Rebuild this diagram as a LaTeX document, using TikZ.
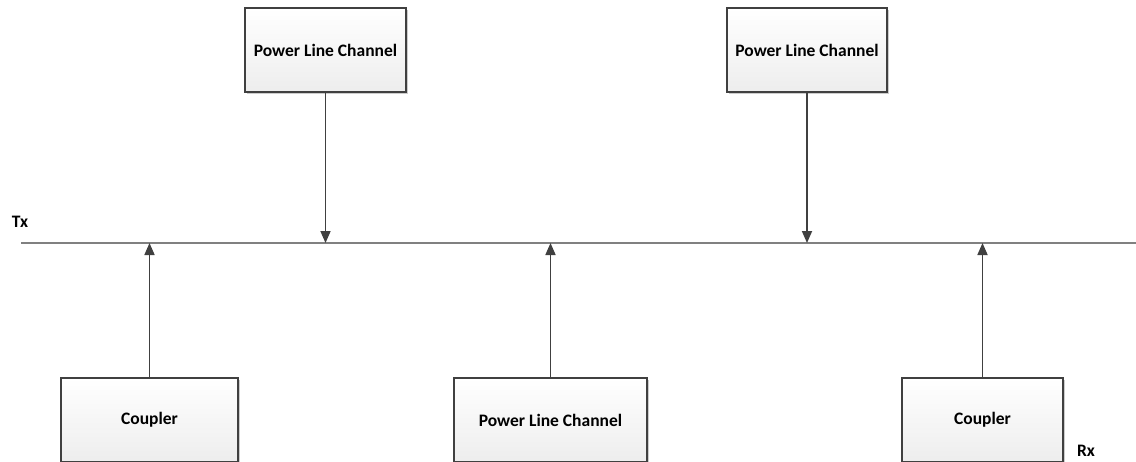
\documentclass[tikz,border=0pt]{standalone}
\usepackage{fontspec}
\setmainfont{Carlito}
\usetikzlibrary{shadows,arrows.meta}
\tikzset{
  blk/.style={draw=black!75, line width=1.3pt, top color=white, bottom color=black!7,
              drop shadow={shadow xshift=1.5pt, shadow yshift=-1.5pt, fill=black!20, opacity=1},
              minimum height=84pt, inner sep=0pt, font=\fontsize{17.5}{20}\selectfont\bfseries},
  feed/.style={draw=black!75, line width=1.7pt, -{Triangle[length=12pt,width=10pt]}},
  lbl/.style={font=\fontsize{17.5}{20}\selectfont\bfseries, inner sep=0pt}
}
\begin{document}
\begin{tikzpicture}[x=1pt,y=-1pt] % Kanal und Koppler am Bus
\useasboundingbox[fill=white] (0,0) rectangle (1136,461);
    \coordinate (busL) at (21,243);
    \coordinate (busR) at (1136,243);
    \draw[black!50, line width=1.2pt] (busL) -- (busR);
    \node[lbl] (tx) at (20,222) {Tx};
    \node[lbl] (rx) at (1086,451) {Rx};
    % oben
    \node[blk, minimum width=161pt] (plcA) at (325.5,50) {Power Line Channel};
    \node[blk, minimum width=160pt] (plcB) at (807,50) {Power Line Channel};
    % unten
    \node[blk, minimum width=177pt] (cplA) at (149.5,420) {Coupler};
    \node[blk, minimum width=193pt] (plcC) at (550.5,420) {Power Line Channel};
    \node[blk, minimum width=161pt] (cplB) at (982.5,420) {Coupler};
    \foreach \n in {plcA,plcB}
        \draw[feed] (\n) -- (\n |- busL);
    \foreach \n in {cplA,plcC,cplB}
        \draw[feed] (\n) -- (\n |- busL);
\end{tikzpicture}
\end{document}
